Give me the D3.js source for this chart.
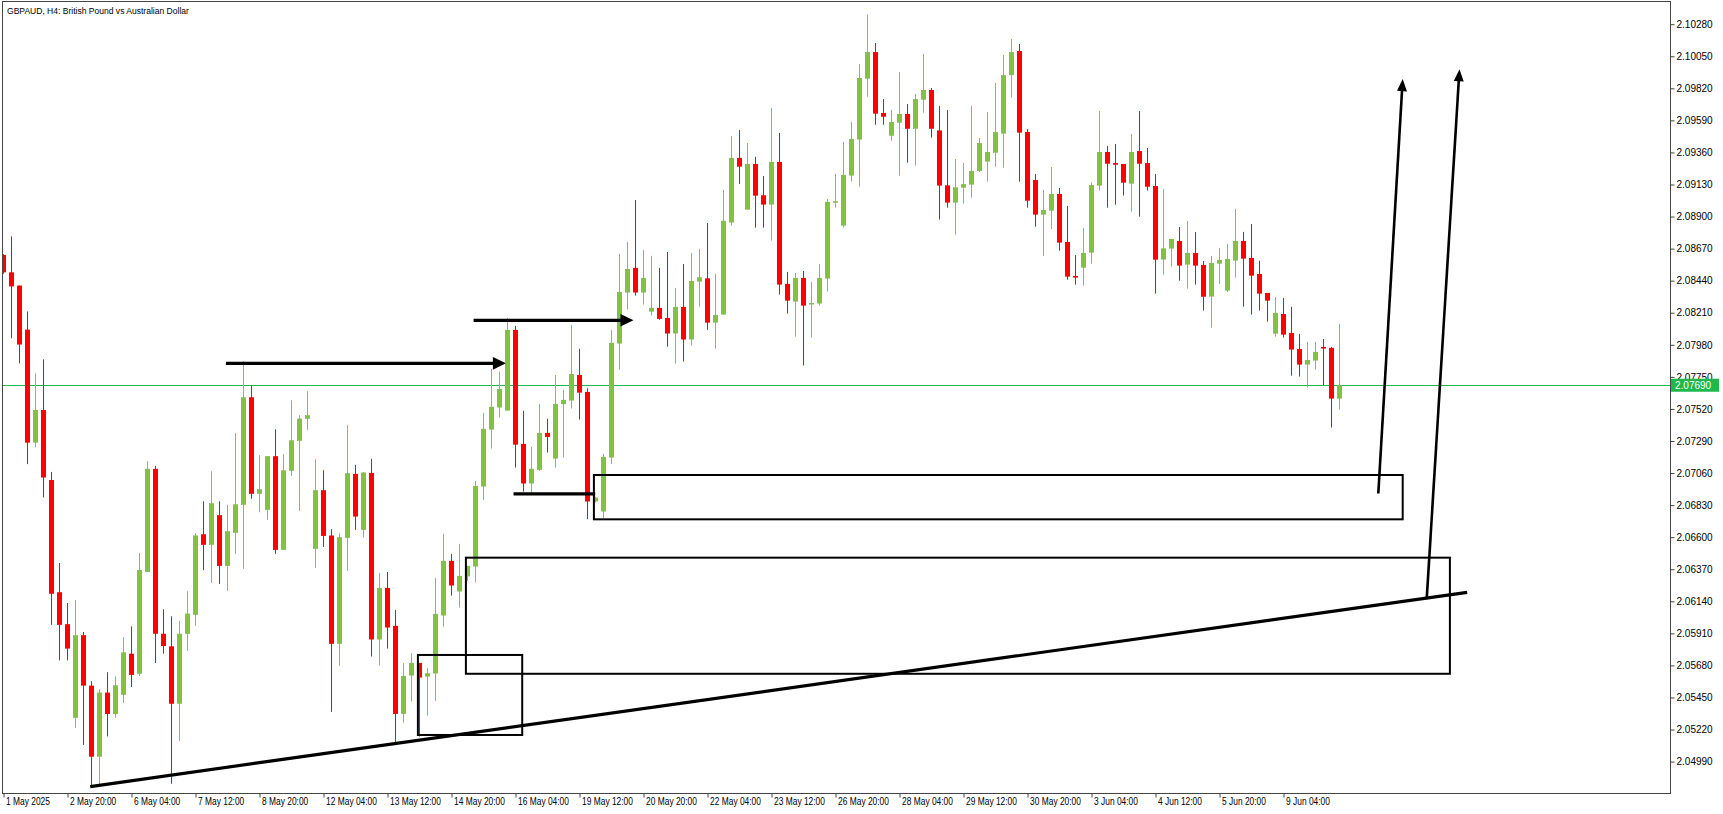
<!DOCTYPE html>
<html><head><meta charset="utf-8">
<script src="https://cdn.jsdelivr.net/npm/d3@7"></script>
<style>html,body{margin:0;padding:0;background:#fff;overflow:hidden}</style>
</head><body><svg id="c" width="1723" height="814"></svg>
<script>
// ---- Data (GBPAUD H4) ----
const opens=[2.08625,2.08500,2.08405,2.08089,2.07278,2.07512,2.07010,2.06205,2.05976,2.05304,
2.05897,2.05535,2.05025,2.05485,2.05331,2.05469,2.05764,2.05620,2.06351,2.07090,
2.05907,2.05817,2.05405,2.05906,2.06043,2.06621,2.06545,2.06758,2.06394,2.06631,
2.06832,2.07604,2.06911,2.06796,2.07181,2.06509,2.07076,2.07291,2.07449,2.06516,
2.06937,2.06612,2.05835,2.06595,2.07054,2.06652,2.07061,2.05866,2.06236,2.05964,
2.05332,2.05607,2.05698,2.05600,2.05622,2.06038,2.06430,2.06210,2.06318,2.06389,
2.06963,2.07372,2.07530,2.07508,2.08087,2.07269,2.06985,2.07083,2.07348,2.07164,
2.07554,2.07580,2.07764,2.07642,2.06856,2.06784,2.07171,2.07989,2.08355,2.08532,
2.08355,2.08218,2.08245,2.08173,2.08061,2.08252,2.08018,2.08433,2.08457,2.08139,
2.08197,2.08857,2.09321,2.08950,2.09277,2.09053,2.08986,2.09292,2.08417,2.08290,
2.08460,2.08271,2.08276,2.08455,2.09000,2.08835,2.09194,2.09452,2.09889,2.10080,
2.09643,2.09480,2.09573,2.09636,2.09530,2.09738,2.09808,2.09518,2.09124,2.09000,
2.09107,2.09129,2.09227,2.09294,2.09358,2.09495,2.09915,2.10088,2.09507,2.09162,
2.08914,2.08942,2.09062,2.08718,2.08474,2.08533,2.08641,2.09122,2.09363,2.09284,
2.09277,2.09136,2.09370,2.09284,2.09119,2.08591,2.08670,2.08725,2.08555,2.08639,
2.08553,2.08326,2.08562,2.08369,2.08584,2.08725,2.08603,2.08488,2.08352,2.08060,
2.08201,2.08065,2.07950,2.07838,2.07867,2.07965,2.07958,2.07594];
const highs=[2.08630,2.08758,2.08405,2.08219,2.07775,2.07876,2.07068,2.06415,2.06128,2.06149,
2.05920,2.05567,2.05509,2.05631,2.05602,2.05883,2.05960,2.06486,2.07145,2.07111,
2.06083,2.06032,2.06000,2.06212,2.06628,2.06858,2.07073,2.06858,2.06832,2.07346,
2.07862,2.07685,2.07188,2.07181,2.07374,2.07195,2.07582,2.07475,2.07647,2.07159,
2.07080,2.06657,2.06628,2.07403,2.07119,2.07068,2.07162,2.06344,2.06351,2.06078,
2.05696,2.05768,2.05698,2.05662,2.06308,2.06624,2.06480,2.06552,2.06394,2.07004,
2.07492,2.07807,2.07788,2.08173,2.08116,2.07506,2.07248,2.07556,2.07449,2.07764,
2.07657,2.08123,2.07951,2.07668,2.06890,2.07197,2.08087,2.08632,2.08718,2.09019,
2.08661,2.08618,2.08532,2.08646,2.08388,2.08560,2.08639,2.08668,2.08854,2.08488,
2.09091,2.09478,2.09521,2.09428,2.09328,2.09191,2.09679,2.09500,2.08503,2.08496,
2.08510,2.08431,2.08560,2.09026,2.09206,2.09435,2.09579,2.09995,2.10350,2.10145,
2.09743,2.09664,2.09937,2.09707,2.09779,2.10066,2.09822,2.09693,2.09664,2.09313,
2.09284,2.09693,2.09463,2.09650,2.09858,2.10059,2.10174,2.10138,2.09528,2.09205,
2.09091,2.09256,2.09105,2.08976,2.08624,2.08818,2.09146,2.09657,2.09406,2.09421,
2.09277,2.09492,2.09657,2.09392,2.09205,2.09098,2.08739,2.08825,2.08868,2.08789,
2.08581,2.08617,2.08675,2.08704,2.08955,2.08790,2.08847,2.08582,2.08352,2.08323,
2.08316,2.08252,2.08058,2.08001,2.08001,2.08022,2.07965,2.08130];
const lows=[2.08490,2.08027,2.07847,2.07124,2.07244,2.06885,2.05971,2.05716,2.05716,2.05232,
2.05110,2.04812,2.04826,2.05171,2.05304,2.05410,2.05525,2.05604,2.06351,2.05697,
2.05764,2.04831,2.05139,2.05784,2.05964,2.06363,2.06272,2.06265,2.06215,2.06480,
2.06373,2.06875,2.06779,2.06724,2.06480,2.06509,2.07040,2.06789,2.07370,2.06380,
2.06530,2.05347,2.05677,2.06358,2.06652,2.06597,2.05744,2.05679,2.05801,2.05122,
2.05270,2.05421,2.05170,2.05320,2.05426,2.05959,2.06181,2.06095,2.06286,2.06275,
2.06867,2.07236,2.07458,2.07508,2.07099,2.06927,2.06915,2.07076,2.07207,2.07099,
2.07171,2.07523,2.07444,2.06729,2.06850,2.06736,2.07126,2.07802,2.08233,2.08333,
2.08269,2.08190,2.08159,2.07967,2.07845,2.07860,2.07975,2.08254,2.08087,2.07953,
2.08197,2.08835,2.09134,2.08950,2.08821,2.08821,2.08728,2.08340,2.08204,2.08039,
2.07831,2.08032,2.08261,2.08362,2.08964,2.08821,2.09151,2.09115,2.09760,2.09559,
2.09559,2.09444,2.09193,2.09287,2.09265,2.09645,2.09466,2.08878,2.08964,2.08770,
2.08992,2.09035,2.09220,2.09150,2.09258,2.09251,2.09753,2.09150,2.08964,2.08828,
2.08617,2.08811,2.08655,2.08447,2.08412,2.08404,2.08562,2.09086,2.08964,2.08985,
2.09050,2.08935,2.08899,2.09086,2.08347,2.08483,2.08541,2.08440,2.08383,2.08412,
2.08225,2.08103,2.08417,2.08359,2.08462,2.08254,2.08197,2.08225,2.08146,2.08039,
2.08032,2.07759,2.07752,2.07673,2.07802,2.07690,2.07386,2.07515];
const closes=[2.08500,2.08399,2.07982,2.07278,2.07512,2.07028,2.06194,2.05971,2.05801,2.05897,
2.05535,2.05025,2.05485,2.05331,2.05538,2.05774,2.05612,2.06364,2.07090,2.05907,
2.05819,2.05405,2.05907,2.06052,2.06612,2.06545,2.06844,2.06394,2.06643,2.06836,
2.07604,2.06911,2.06944,2.07181,2.06509,2.07080,2.07295,2.07451,2.07475,2.06937,
2.06609,2.05835,2.06600,2.07059,2.06748,2.07064,2.05866,2.06236,2.05952,2.05332,
2.05605,2.05698,2.05593,2.05624,2.06050,2.06430,2.06253,2.06322,2.06394,2.06968,
2.07377,2.07535,2.07664,2.08087,2.07264,2.06985,2.07090,2.07348,2.07319,2.07556,
2.07585,2.07771,2.07637,2.06856,2.06884,2.07176,2.07994,2.08359,2.08524,2.08355,
2.08460,2.08245,2.08166,2.08061,2.08252,2.08018,2.08438,2.08465,2.08139,2.08194,
2.08869,2.09321,2.09258,2.09277,2.09050,2.08986,2.09292,2.08412,2.08297,2.08460,
2.08261,2.08280,2.08460,2.09005,2.09010,2.09199,2.09457,2.09894,2.10080,2.09638,
2.09616,2.09578,2.09636,2.09530,2.09743,2.09808,2.09530,2.09122,2.09000,2.09110,
2.09133,2.09227,2.09428,2.09363,2.09506,2.09915,2.10080,2.09502,2.09014,2.08914,
2.08947,2.09062,2.08713,2.08469,2.08462,2.08639,2.09126,2.09363,2.09279,2.09272,
2.09143,2.09363,2.09279,2.09114,2.08591,2.08672,2.08739,2.08548,2.08639,2.08548,
2.08325,2.08567,2.08589,2.08596,2.08725,2.08598,2.08476,2.08347,2.08297,2.08209,
2.08053,2.07946,2.07838,2.07871,2.07929,2.07953,2.07594,2.07690];

const tickBars=[0,8,16,24,32,40,48,56,64,72,80,88,96,104,112,120,128,136,144,152,160];
const tickLabels=["1 May 2025","2 May 20:00","6 May 04:00","7 May 12:00","8 May 20:00","12 May 04:00",
"13 May 12:00","14 May 20:00","16 May 04:00","19 May 12:00","20 May 20:00","22 May 04:00","23 May 12:00",
"26 May 20:00","28 May 04:00","29 May 12:00","30 May 20:00","3 Jun 04:00","4 Jun 12:00","5 Jun 20:00","9 Jun 04:00"];
const priceTicks=[2.04990,2.05220,2.05450,2.05680,2.05910,2.06140,2.06370,2.06600,2.06830,2.07060,
2.07290,2.07520,2.07750,2.07980,2.08210,2.08440,2.08670,2.08900,2.09130,2.09360,2.09590,2.09820,2.10050,2.10280];
const lastPrice=2.07690;
const title="GBPAUD, H4:  British Pound vs Australian Dollar";

// annotations in (bar index, price)
const hArrows=[[27.8,62.8,2.07847],[58.76,78.75,2.08156]];
const hLines=[[63.75,73.96,2.06910]];
const boxes=[[51.8,64.84,2.05755,2.05181],[57.8,180.8,2.06453,2.05620],[73.8,174.9,2.07046,2.06728]];
const trend=[[10.84,2.04811],[182.96,2.06204]];
const upArrows=[[171.85,2.06913,174.9,2.09886],[177.9,2.06156,182.0,2.09957]];

// ---- Drawing ----
const svg=d3.select("#c");
const n=opens.length;
const pl=2,pt=1,pr=1670,pb=793;
const x=d3.scaleLinear().domain([0,n-1]).range([3.5,3.5+8*(n-1)]);
const y=d3.scaleLinear().domain([2.04990,2.10280]).range([761.6,24.2]);
const BULL="#80c342",BEAR="#ff0000";
const FONT="'Liberation Sans', Arial, sans-serif";

svg.append("rect").attr("width",1723).attr("height",814).attr("fill","#fff");
svg.append("defs").append("clipPath").attr("id","clip")
  .append("rect").attr("x",pl).attr("y",pt).attr("width",pr-pl).attr("height",pb-pt);
const g=svg.append("g").attr("clip-path","url(#clip)");

// bid line
g.append("line").attr("x1",pl).attr("x2",pr).attr("y1",Math.round(y(lastPrice))+0.5).attr("y2",Math.round(y(lastPrice))+0.5)
  .attr("stroke","#1fb84a").attr("stroke-width",1);

const idx=d3.range(n);
const cg=g.append("g");
cg.selectAll("line.w").data(idx).join("line").attr("class","w")
  .attr("x1",i=>x(i)).attr("x2",i=>x(i)).attr("y1",i=>y(highs[i])).attr("y2",i=>y(lows[i]))
  .attr("stroke",i=>closes[i]>=opens[i]?BULL:BEAR).attr("stroke-width",1);
cg.selectAll("rect.b").data(idx).join("rect").attr("class","b")
  .attr("x",i=>x(i)-2.5).attr("width",5)
  .attr("y",i=>y(Math.max(opens[i],closes[i])))
  .attr("height",i=>Math.max(1.5,Math.abs(y(opens[i])-y(closes[i]))))
  .attr("fill",i=>closes[i]>=opens[i]?BULL:BEAR);

// annotations
const ag=g.append("g");
function arrow(x1,y1,x2,y2,len,hw,sw){
  const dx=x2-x1,dy=y2-y1,L=Math.hypot(dx,dy),ux=dx/L,uy=dy/L;
  const bx=x2-ux*len,by=y2-uy*len;
  ag.append("line").attr("x1",x1).attr("y1",y1).attr("x2",bx+ux).attr("y2",by+uy)
    .attr("stroke","#000").attr("stroke-width",sw);
  ag.append("path").attr("d",`M${x2},${y2}L${bx-uy*hw},${by+ux*hw}L${bx+uy*hw},${by-ux*hw}Z`).attr("fill","#000");
}
hArrows.forEach(a=>arrow(x(a[0]),y(a[2]),x(a[1]),y(a[2]),13,6.3,3.2));
hLines.forEach(a=>ag.append("line").attr("x1",x(a[0])).attr("x2",x(a[1])).attr("y1",y(a[2])).attr("y2",y(a[2]))
  .attr("stroke","#000").attr("stroke-width",3.2));
boxes.forEach(b=>ag.append("rect").attr("x",x(b[0])).attr("y",y(b[2])).attr("width",x(b[1])-x(b[0])).attr("height",y(b[3])-y(b[2]))
  .attr("fill","none").attr("stroke","#000").attr("stroke-width",2));
ag.append("line").attr("x1",x(trend[0][0])).attr("y1",y(trend[0][1])).attr("x2",x(trend[1][0])).attr("y2",y(trend[1][1]))
  .attr("stroke","#000").attr("stroke-width",3.2);
upArrows.forEach(a=>arrow(x(a[0]),y(a[1]),x(a[2]),y(a[3]),12,5,2.6));

// frame
svg.append("rect").attr("x",pl+0.5).attr("y",pt+0.5).attr("width",pr-pl).attr("height",pb-pt)
  .attr("fill","none").attr("stroke","#444").attr("stroke-width",1);

// title
svg.append("text").attr("x",7).attr("y",14).attr("font-family",FONT).attr("font-size",9.5).attr("fill","#000")
  .attr("transform","translate(7,0) scale(0.9,1) translate(-7,0)").text(title);

// y axis
const ya=svg.append("g").attr("transform",`translate(${pr+0.5},0)`)
  .call(d3.axisRight(y).tickValues(priceTicks).tickFormat(d3.format(".5f")).tickSize(4).tickPadding(2));
ya.select(".domain").remove();
ya.selectAll("line").attr("stroke","#444");
ya.selectAll("text").attr("font-family",FONT).attr("font-size",10).attr("fill","#000");

// x axis
const xa=svg.append("g").attr("transform",`translate(0,${pb+0.5})`)
  .call(d3.axisBottom(x).tickValues(tickBars).tickFormat((d,i)=>tickLabels[i]).tickSize(4).tickPadding(2));
xa.select(".domain").remove();
xa.selectAll("line").attr("stroke","#444");
xa.selectAll("text").attr("font-family",FONT).attr("font-size",10).attr("fill","#000")
  .attr("text-anchor","start").attr("dx",2.5).attr("dy","0.55em").attr("transform","scale(0.84,1)");

// last price label
const ly=y(lastPrice);
svg.append("rect").attr("x",pr+1).attr("y",ly-6.5).attr("width",48).attr("height",13).attr("fill","#1fb84a");
svg.append("text").attr("x",pr+5).attr("y",ly).attr("dy","0.35em").attr("font-family",FONT).attr("font-size",10)
  .attr("fill","#fff").text(d3.format(".5f")(lastPrice));
</script></body></html>
